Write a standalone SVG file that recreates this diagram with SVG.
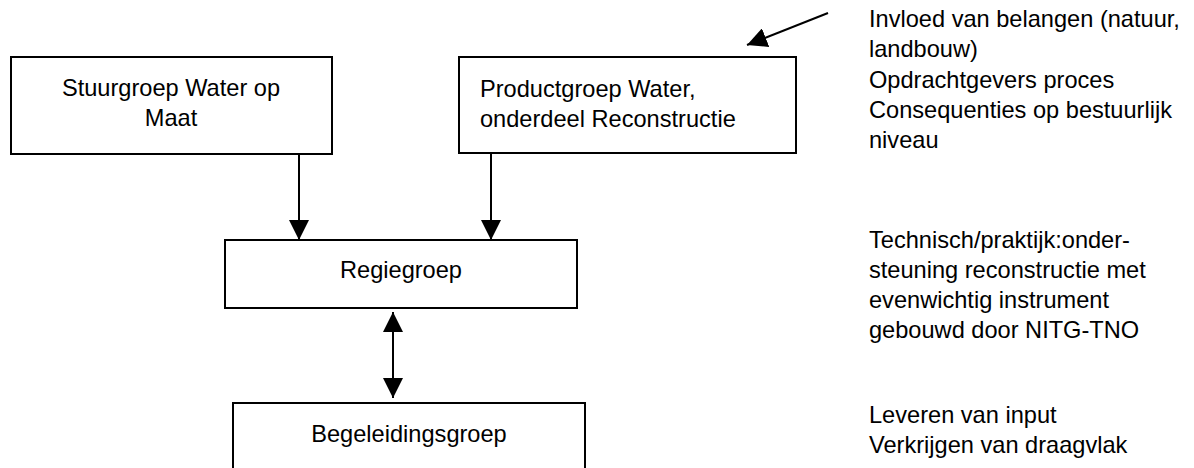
<svg xmlns="http://www.w3.org/2000/svg" width="1194" height="468" viewBox="0 0 1194 468">
<style>
.box{fill:#fff;stroke:#000;stroke-width:2}
.t{font-family:"Liberation Sans",Arial,sans-serif;font-size:23.6px;fill:#000}
.c{text-anchor:middle}
.ln{stroke:#000;stroke-width:2;fill:none}
</style>
<defs>
<marker id="ah" markerUnits="userSpaceOnUse" markerWidth="20" markerHeight="20" viewBox="0 0 20 20" refX="20" refY="10" orient="auto-start-reverse">
<path d="M0,0 L20,10 L0,20 Z" fill="#000"/>
</marker>
</defs>
<rect width="1194" height="468" fill="#fff"/>
<g id="connectors">
<line class="ln" x1="299" y1="154" x2="299" y2="240" marker-end="url(#ah)"/>
<line class="ln" x1="491" y1="153" x2="491" y2="240" marker-end="url(#ah)"/>
<line class="ln" x1="393" y1="312" x2="393" y2="398" marker-start="url(#ah)" marker-end="url(#ah)"/>
<line class="ln" x1="828" y1="13" x2="747" y2="45" marker-end="url(#ah)"/>
</g>
<g id="stuurgroep">
<rect class="box" x="11" y="57" width="321" height="97"/>
<text class="t c" x="171" y="96">Stuurgroep Water op</text>
<text class="t c" x="171" y="126">Maat</text>
</g>
<g id="productgroep">
<rect class="box" x="459" y="57" width="337" height="96"/>
<text class="t" x="480" y="97">Productgroep Water,</text>
<text class="t" x="480" y="127">onderdeel Reconstructie</text>
</g>
<g id="regiegroep">
<rect class="box" x="225" y="240" width="352" height="68"/>
<text class="t c" x="401" y="278">Regiegroep</text>
</g>
<g id="begeleidingsgroep">
<rect class="box" x="233" y="403" width="352" height="80"/>
<text class="t c" x="409" y="442">Begeleidingsgroep</text>
</g>
<g id="notes">
<text class="t" x="869" y="27">Invloed van belangen (natuur,</text>
<text class="t" x="869" y="57">landbouw)</text>
<text class="t" x="869" y="88">Opdrachtgevers proces</text>
<text class="t" x="869" y="118">Consequenties op bestuurlijk</text>
<text class="t" x="869" y="148">niveau</text>
<text class="t" x="869" y="248">Technisch/praktijk:onder-</text>
<text class="t" x="869" y="278">steuning reconstructie met</text>
<text class="t" x="869" y="308">evenwichtig instrument</text>
<text class="t" x="869" y="338">gebouwd door NITG-TNO</text>
<text class="t" x="869" y="423">Leveren van input</text>
<text class="t" x="869" y="453">Verkrijgen van draagvlak</text>
</g>
</svg>
